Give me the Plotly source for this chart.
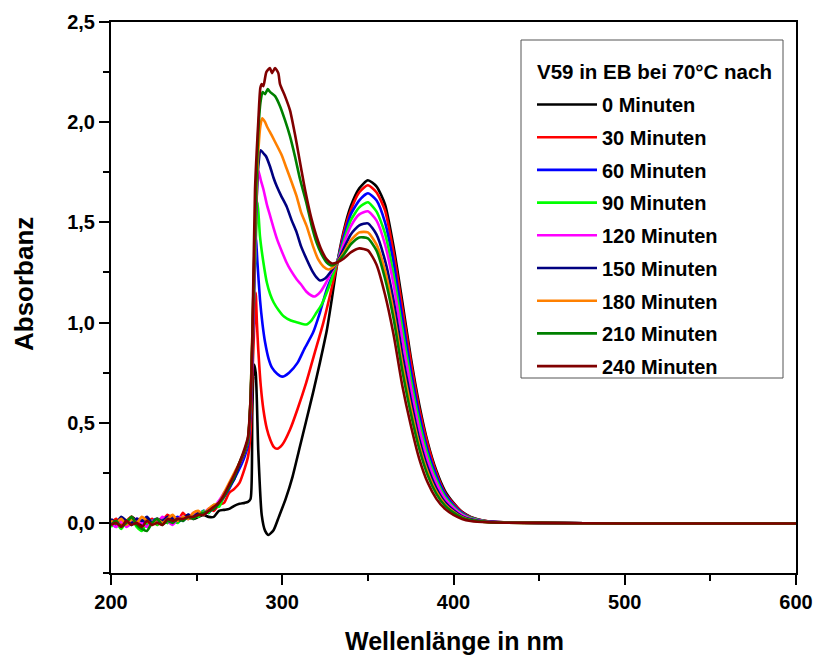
import plotly.graph_objects as go

# ---------------- data ----------------
names = ["0 Minuten", "30 Minuten", "60 Minuten", "90 Minuten", "120 Minuten",
         "150 Minuten", "180 Minuten", "210 Minuten", "240 Minuten"]
colors = ["#000000", "#FF0000", "#0000FF", "#00FF00", "#FF00FF",
          "#000080", "#FF8000", "#008000", "#800000"]
legend_title = "V59 in EB bei 70°C nach"
x_title = "Wellenlänge in nm"
y_title = "Absorbanz"

# noisy baseline region, shared wavelength grid (nm)
wl_noise = [200, 203, 206, 209, 212, 215, 218, 221, 224, 227, 230, 233, 236,
            239, 242, 245, 248, 251, 254, 257, 260, 263, 266, 269, 272]
noise_0 = [0.01, -0.01, 0.02, 0.00, 0.03, 0.01, -0.01, 0.02, 0.00, 0.01, 0.02, 0.00, 0.03,
           0.01, 0.02, 0.04, 0.02, 0.03, 0.04, 0.03, 0.03, 0.06, 0.065, 0.07, 0.085]
noise_30 = [0.00, 0.02, -0.01, 0.01, 0.03, -0.01, 0.01, 0.00, 0.02, -0.01, 0.01, 0.04, 0.02,
            0.01, 0.05, 0.02, 0.03, 0.05, 0.04, 0.07, 0.06, 0.09, 0.10, 0.15, 0.17]
noise_60 = [0.01, -0.02, 0.02, 0.00, -0.01, 0.02, 0.01, -0.01, 0.01, 0.02, 0.00, 0.01, 0.02,
            0.03, 0.01, 0.04, 0.03, 0.04, 0.06, 0.05, 0.08, 0.09, 0.13, 0.17, 0.22]
noise_90 = [-0.02, 0.00, -0.03, 0.01, 0.02, -0.02, -0.04, 0.00, 0.01, -0.01, 0.02, 0.00, 0.01,
            0.00, 0.03, 0.02, 0.04, 0.03, 0.06, 0.05, 0.09, 0.08, 0.14, 0.19, 0.23]
noise_120 = [0.00, -0.02, 0.01, -0.02, 0.00, 0.02, 0.00, -0.02, 0.01, 0.00, 0.03, 0.01, -0.01,
             0.02, 0.03, 0.02, 0.05, 0.04, 0.05, 0.07, 0.08, 0.11, 0.15, 0.18, 0.24]
noise_150 = [0.02, 0.00, 0.03, 0.01, 0.00, 0.02, 0.01, 0.03, 0.00, 0.02, 0.01, 0.03, 0.02,
             0.01, 0.02, 0.04, 0.03, 0.05, 0.04, 0.06, 0.07, 0.10, 0.14, 0.18, 0.22]
noise_180 = [0.01, 0.00, 0.02, -0.01, 0.02, 0.00, 0.03, 0.01, -0.01, 0.02, 0.00, 0.02, 0.04,
             0.01, 0.03, 0.02, 0.05, 0.06, 0.04, 0.07, 0.09, 0.10, 0.15, 0.20, 0.25]
noise_210 = [-0.01, 0.01, -0.02, 0.00, 0.03, -0.01, -0.03, -0.04, 0.00, 0.02, -0.01, 0.01, 0.00,
             0.02, 0.01, 0.03, 0.02, 0.04, 0.05, 0.06, 0.07, 0.10, 0.13, 0.18, 0.23]
noise_240 = [-0.01, 0.00, -0.02, 0.01, -0.01, 0.00, -0.02, 0.01, -0.01, 0.00, -0.01, 0.02, 0.01,
             0.02, 0.02, 0.03, 0.03, 0.04, 0.04, 0.06, 0.08, 0.10, 0.14, 0.19, 0.24]

# short-wavelength band (per series wavelengths and absorbances)
wl_uv_0 = [275, 278, 280, 281.5, 282.5, 283.5, 284.5, 286, 288, 290, 292, 295, 298, 302,
           306, 310, 314, 318, 322, 326, 329, 332]
ab_uv_0 = [0.095, 0.10, 0.105, 0.12, 0.55, 0.79, 0.75, 0.36, 0.04, -0.04, -0.06, -0.035,
           0.03, 0.12, 0.23, 0.37, 0.51, 0.65, 0.80, 0.96, 1.12, 1.29]
wl_uv_30 = [275, 278, 280, 281.5, 282.5, 283.5, 284.5, 285.2, 286, 287.5, 289, 291, 293, 295,
            297, 300, 304.5, 309, 314, 319, 324, 328, 332]
ab_uv_30 = [0.20, 0.27, 0.33, 0.45, 0.72, 0.95, 1.15, 1.00, 0.865, 0.68, 0.565, 0.47, 0.415,
            0.38, 0.37, 0.39, 0.465, 0.57, 0.70, 0.85, 1.00, 1.14, 1.29]
wl_uv_60 = [275, 278, 280, 281.5, 283, 284.6, 285.5, 287, 288.5, 290, 292, 294, 297, 300,
            304, 309, 313, 318, 322, 326, 329, 332]
ab_uv_60 = [0.27, 0.33, 0.39, 0.55, 0.95, 1.42, 1.30, 1.115, 0.99, 0.90, 0.82, 0.775, 0.745,
            0.73, 0.75, 0.80, 0.87, 0.95, 1.05, 1.165, 1.23, 1.30]
wl_uv_90 = [275, 278, 280, 281.5, 283, 284.5, 285.6, 286.3, 287, 289, 291, 293, 295, 298,
            301, 305, 309, 314, 317, 320, 323, 326, 329, 332]
ab_uv_90 = [0.29, 0.35, 0.41, 0.60, 1.00, 1.40, 1.60, 1.52, 1.43, 1.30, 1.20, 1.14, 1.10,
            1.06, 1.03, 1.01, 1.00, 0.99, 1.01, 1.05, 1.09, 1.15, 1.22, 1.30]
wl_uv_120 = [275, 278, 280, 281.5, 283, 284.5, 286, 287.5, 289, 291, 293, 295, 297, 300,
             302.5, 305, 308.5, 311, 314, 317, 319, 322, 325, 328, 332]
ab_uv_120 = [0.29, 0.35, 0.41, 0.60, 1.00, 1.45, 1.76, 1.71, 1.665, 1.59, 1.53, 1.47, 1.415,
             1.35, 1.30, 1.26, 1.215, 1.19, 1.155, 1.135, 1.13, 1.15, 1.19, 1.24, 1.30]
wl_uv_150 = [275, 278, 280, 281.5, 283, 284.5, 286, 287.4, 289, 290.5, 292.8, 295, 296.8,
             299.5, 302.5, 305.5, 308.4, 311, 314.3, 318, 320, 322, 325, 328, 332]
ab_uv_150 = [0.29, 0.35, 0.41, 0.60, 1.05, 1.50, 1.78, 1.86, 1.845, 1.83, 1.78, 1.72, 1.68,
             1.63, 1.58, 1.51, 1.45, 1.38, 1.315, 1.25, 1.225, 1.21, 1.22, 1.25, 1.30]
wl_uv_180 = [275, 278, 280, 281.5, 283, 284.5, 286, 287.2, 288.3, 290, 291, 293.8, 296.8,
             299.7, 302.5, 305.5, 308.4, 311, 314.3, 318, 321, 324, 327, 329.5, 332]
ab_uv_180 = [0.30, 0.36, 0.42, 0.62, 1.10, 1.55, 1.85, 1.98, 2.02, 2.00, 1.98, 1.935, 1.885,
             1.835, 1.77, 1.70, 1.63, 1.55, 1.48, 1.38, 1.315, 1.28, 1.265, 1.275, 1.30]
wl_uv_210 = [275, 278, 280, 281.5, 283, 284.5, 286, 287.3, 288.5, 290, 291.5, 293, 295.8,
             298.7, 301.6, 304.5, 307.4, 310.4, 314.3, 317, 320, 323, 326, 329, 332]
ab_uv_210 = [0.30, 0.36, 0.42, 0.62, 1.10, 1.60, 1.95, 2.10, 2.15, 2.14, 2.165, 2.15, 2.13,
             2.08, 2.01, 1.93, 1.83, 1.715, 1.59, 1.49, 1.40, 1.34, 1.30, 1.285, 1.30]
wl_uv_240 = [275, 278, 280, 281.5, 282.5, 284.1, 286, 287.2, 288, 289, 290.7, 292.8, 294,
             295.8, 297.7, 298.7, 301.6, 304.5, 306.5, 308.4, 311, 313.5, 317, 320, 323,
             326, 329, 332]
ab_uv_240 = [0.30, 0.37, 0.43, 0.62, 0.90, 1.665, 2.00, 2.17, 2.19, 2.18, 2.25, 2.27, 2.245,
             2.27, 2.245, 2.19, 2.13, 2.06, 1.98, 1.895, 1.77, 1.655, 1.52, 1.43, 1.36,
             1.315, 1.295, 1.30]

# long-wavelength band, shared wavelength grid (nm)
wl_band = [336, 340, 345, 350, 355, 360, 365, 370, 375, 380, 385, 390, 395, 400, 405,
           410, 420, 430, 450, 500, 600]
band_0 = [1.46, 1.58, 1.67, 1.71, 1.68, 1.59, 1.38, 1.11, 0.83, 0.59, 0.40, 0.26, 0.16,
          0.10, 0.055, 0.03, 0.008, 0.003, 0.0, -0.003, -0.003]
band_30 = [1.45, 1.56, 1.65, 1.685, 1.65, 1.56, 1.35, 1.08, 0.81, 0.57, 0.39, 0.25, 0.15,
           0.096, 0.053, 0.029, 0.008, 0.003, 0.0, -0.003, -0.003]
band_60 = [1.43, 1.54, 1.61, 1.645, 1.61, 1.50, 1.30, 1.03, 0.765, 0.54, 0.36, 0.235, 0.143,
           0.089, 0.049, 0.026, 0.007, 0.003, 0.0, -0.003, -0.003]
band_90 = [1.41, 1.51, 1.575, 1.60, 1.555, 1.445, 1.24, 0.975, 0.72, 0.505, 0.335, 0.215,
           0.131, 0.081, 0.044, 0.024, 0.006, 0.002, 0.0, -0.003, -0.003]
band_120 = [1.395, 1.48, 1.54, 1.555, 1.51, 1.39, 1.19, 0.925, 0.68, 0.47, 0.31, 0.20, 0.12,
            0.074, 0.04, 0.021, 0.006, 0.002, 0.0, -0.003, -0.003]
band_150 = [1.37, 1.44, 1.485, 1.495, 1.44, 1.31, 1.11, 0.85, 0.62, 0.42, 0.275, 0.173,
            0.104, 0.063, 0.033, 0.018, 0.005, 0.002, 0.0, -0.003, -0.003]
band_180 = [1.35, 1.41, 1.45, 1.45, 1.39, 1.26, 1.055, 0.80, 0.58, 0.39, 0.252, 0.156,
            0.093, 0.056, 0.029, 0.015, 0.004, 0.001, 0.0, -0.003, -0.003]
band_210 = [1.34, 1.39, 1.425, 1.42, 1.36, 1.22, 1.02, 0.765, 0.55, 0.37, 0.236, 0.145,
            0.086, 0.051, 0.026, 0.014, 0.004, 0.001, 0.0, -0.003, -0.003]
band_240 = [1.32, 1.35, 1.37, 1.36, 1.29, 1.14, 0.94, 0.69, 0.49, 0.32, 0.20, 0.12, 0.07,
            0.04, 0.02, 0.01, 0.003, 0.001, 0.0, -0.003, -0.003]

noise_sets = [noise_0, noise_30, noise_60, noise_90, noise_120, noise_150, noise_180,
              noise_210, noise_240]
uv_wl_sets = [wl_uv_0, wl_uv_30, wl_uv_60, wl_uv_90, wl_uv_120, wl_uv_150, wl_uv_180,
              wl_uv_210, wl_uv_240]
uv_ab_sets = [ab_uv_0, ab_uv_30, ab_uv_60, ab_uv_90, ab_uv_120, ab_uv_150, ab_uv_180,
              ab_uv_210, ab_uv_240]
band_sets = [band_0, band_30, band_60, band_90, band_120, band_150, band_180, band_210,
             band_240]

x_ticks = [200, 300, 400, 500, 600]
y_ticks = [0.0, 0.5, 1.0, 1.5, 2.0, 2.5]

FONT = "Arial, 'Liberation Sans', sans-serif"

# plot area in pixels (used only to place paper-coordinate decorations)
L, R, T, B = 111, 18, 22, 82
W, H = 814, 655
PW, PH = W - L - R, H - T - B


def px_x(p):
    return (p - L) / PW


def px_y(p):
    return 1 - (p - T) / PH


# ---------------- figure ----------------
fig = go.Figure()
for i in range(len(names)):
    xs = wl_noise + uv_wl_sets[i] + wl_band
    ys = noise_sets[i] + uv_ab_sets[i] + band_sets[i]
    fig.add_trace(go.Scatter(
        x=xs, y=ys, mode="lines", name="<b>" + names[i] + "</b>", legendgroup=names[i],
        line=dict(color=colors[i], width=2.6, shape="spline", smoothing=0.6),
    ))

fig.update_layout(
    width=W, height=H,
    margin=dict(l=L, r=R, t=T, b=B, autoexpand=False),
    paper_bgcolor="white", plot_bgcolor="white",
    font=dict(family=FONT, size=20, color="black"),
    showlegend=True,
    legend=dict(
        font=dict(family=FONT, size=20, color="black"),
        x=px_x(532), xanchor="left", y=px_y(85), yanchor="top",
        borderwidth=0, bgcolor="rgba(0,0,0,0)",
        itemwidth=60, tracegroupgap=3.7,
    ),
    shapes=[dict(type="rect", xref="paper", yref="paper",
                 x0=px_x(521), x1=px_x(783), y0=px_y(378), y1=px_y(40),
                 line=dict(color="#555555", width=1), fillcolor="white", layer="below")],
    annotations=[
        dict(text="<b>" + legend_title + "</b>", xref="paper", yref="paper",
             x=px_x(535), y=px_y(71), xanchor="left", yanchor="middle", showarrow=False,
             font=dict(family=FONT, size=20.5, color="black")),
        dict(text="<b>" + x_title + "</b>", xref="paper", yref="paper",
             x=px_x(454), y=px_y(641), xanchor="center", yanchor="middle", showarrow=False,
             font=dict(family=FONT, size=25, color="black")),
        dict(text="<b>" + y_title + "</b>", xref="paper", yref="paper",
             x=px_x(24), y=px_y(284), xanchor="center", yanchor="middle", showarrow=False,
             textangle=-90, font=dict(family=FONT, size=26, color="black")),
    ],
)

fig.update_xaxes(
    range=[200, 600], tickvals=x_ticks, ticktext=["<b>%d</b>" % v for v in x_ticks],
    automargin=False,
    showline=True, linecolor="black", linewidth=2, mirror=True,
    ticks="outside", ticklen=10, tickwidth=2, tickcolor="black",
    minor=dict(dtick=50, tick0=200, ticks="outside", ticklen=6, tickwidth=2, tickcolor="black"),
    showgrid=False, zeroline=False,
    tickfont=dict(family=FONT, size=20),
)
fig.update_yaxes(
    range=[-0.25, 2.5], tickvals=y_ticks,
    ticktext=["<b>" + ("%.1f" % v).replace(".", ",") + "</b>" for v in y_ticks],
    automargin=False,
    showline=True, linecolor="black", linewidth=2, mirror=True,
    ticks="outside", ticklen=10, tickwidth=2, tickcolor="black",
    minor=dict(dtick=0.25, tick0=0, ticks="outside", ticklen=6, tickwidth=2, tickcolor="black"),
    showgrid=False, zeroline=False,
    tickfont=dict(family=FONT, size=20),
)

fig.write_html("out.html")
